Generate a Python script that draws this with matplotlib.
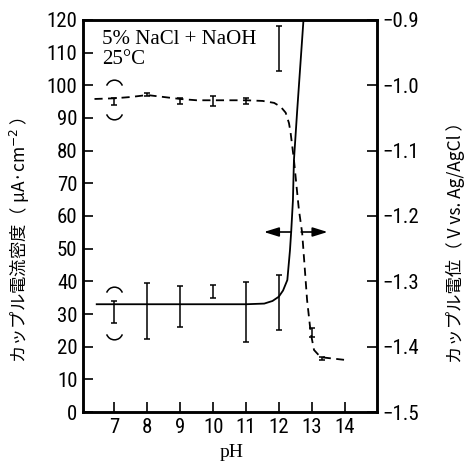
import matplotlib
matplotlib.use("Agg")
import matplotlib.pyplot as plt
import matplotlib.path as mpath
import matplotlib.font_manager as fm
from matplotlib.ticker import FuncFormatter

# ---- data ----
# coupled current density (left axis, uA/cm2), solid line
cur_ph = [6.44, 7.0, 8.0, 9.0, 10.0, 11.0, 11.55, 11.8, 11.99, 12.12, 12.25, 12.33, 12.37, 12.42, 12.45, 12.55, 12.74]
cur_val = [33.0, 33.0, 33.0, 33.0, 33.0, 33.0, 33.2, 34.0, 35.3, 37.2, 40.4, 49.5, 55.7, 64.8, 77.0, 92.4, 120.0]
cur_err_ph = [7, 8, 9, 10, 11, 12, 12]
cur_err_lo = [27.2, 22.3, 26.0, 34.8, 21.5, 25.1, 104.3]
cur_err_hi = [34.0, 39.6, 38.7, 39.0, 39.8, 42.0, 118.0]
cur_paren_ph = [7]
cur_paren_lo = [24.8]
cur_paren_hi = [35.8]

# coupled potential (right axis, V vs Ag/AgCl), dashed line
pot_ph = [6.4, 7.0, 7.5, 8.0, 8.5, 9.0, 9.5, 10.0, 11.0, 11.5, 11.85, 12.05, 12.2, 12.3, 12.35, 12.45,
          12.55, 12.6, 12.7, 12.85, 12.96, 13.06, 13.26, 13.97]
pot_val = [-1.021, -1.020, -1.018, -1.015, -1.018, -1.021, -1.023, -1.023, -1.023, -1.024, -1.027, -1.033,
           -1.042, -1.058, -1.073, -1.114, -1.165, -1.19, -1.226, -1.329, -1.379, -1.405, -1.416, -1.42]
pot_err_ph = [7, 8, 9, 10, 11, 13, 13.29]
pot_err_lo = [-1.030, -1.017, -1.028, -1.032, -1.029, -1.385, -1.421]
pot_err_hi = [-1.020, -1.012, -1.020, -1.017, -1.020, -1.372, -1.415]
pot_paren_ph = [7]
pot_paren_lo = [-1.040]
pot_paren_hi = [-1.004]

arrow_y = 55.1
arrow_left = (12.37, 11.54)
arrow_right = (12.67, 13.47)

x_ticks = [7, 8, 9, 10, 11, 12, 13, 14]
left_ticks = list(range(0, 121, 10))
right_ticks = [-1.5, -1.4, -1.3, -1.2, -1.1, -1.0, -0.9]

# ---- fonts ----
names = {f.name for f in fm.fontManager.ttflist}
tick_family = 'Liberation Sans'
tick_stretch = 'normal'
for cand in ['Liberation Sans Narrow', 'DejaVu Sans Condensed', 'Roboto Condensed', 'Open Sans Condensed']:
    if cand in names:
        tick_family = cand
        break
else:
    if any(f.name == 'DejaVu Sans' and str(f.stretch) in ('condensed', 'semi-condensed', '75', '87.5')
           for f in fm.fontManager.ttflist):
        tick_family = 'DejaVu Sans'
        tick_stretch = 'condensed'
serif_font = ['Liberation Serif', 'DejaVu Serif']
jp_font = ['Noto Sans CJK JP', 'DejaVu Sans']

fig = plt.figure(figsize=(4.66, 4.62), dpi=100)
ax = fig.add_axes([0.178, 0.108, 0.631, 0.849])
ax2 = ax.twinx()

ax.set_xlim(6.05, 14.97)
ax.set_ylim(0, 120)
ax2.set_ylim(-1.5, -0.9)

lw = 1.3
ax.plot(cur_ph, cur_val, color='black', lw=lw, solid_capstyle='butt')
ax.errorbar(cur_err_ph, [(l + h) / 2 for l, h in zip(cur_err_lo, cur_err_hi)],
            yerr=[[(h - l) / 2 for l, h in zip(cur_err_lo, cur_err_hi)]] * 2,
            fmt='none', ecolor='black', elinewidth=1.1, capsize=2.5, capthick=1.1)

ax2.plot(pot_ph, pot_val, color='black', lw=lw, linestyle=(0, (4.5, 3)))
ax2.errorbar(pot_err_ph, [(l + h) / 2 for l, h in zip(pot_err_lo, pot_err_hi)],
             yerr=[[(h - l) / 2 for l, h in zip(pot_err_lo, pot_err_hi)]] * 2,
             fmt='none', ecolor='black', elinewidth=1.1, capsize=2.5, capthick=1.1)

top_arc = mpath.Path.arc(20, 160)
bot_arc = mpath.Path.arc(200, 340)
for a, ph, lo, hi in ((ax, cur_paren_ph, cur_paren_lo, cur_paren_hi), (ax2, pot_paren_ph, pot_paren_lo, pot_paren_hi)):
    a.plot(ph, hi, linestyle='none', marker=top_arc, ms=12, mfc='none', mec='black', mew=1.1)
    a.plot(ph, lo, linestyle='none', marker=bot_arc, ms=12, mfc='none', mec='black', mew=1.1)

for start, end in (arrow_left, arrow_right):
    ax.annotate('', xy=(end, arrow_y), xytext=(start, arrow_y),
                arrowprops=dict(arrowstyle='-|>,head_length=0.9,head_width=0.28', color='black', lw=1.2,
                                shrinkA=0, shrinkB=0))

for a in (ax, ax2):
    for s in a.spines.values():
        s.set_linewidth(1.8)

ax.set_xticks(x_ticks)
ax.set_yticks(left_ticks)
ax2.set_yticks(right_ticks)
ax2.yaxis.set_major_formatter(FuncFormatter(lambda v, p: '\u2212' + f'{abs(v):.1f}'))
ax.tick_params(axis='both', direction='in', length=7, width=1.2, labelsize=15, pad=4)
ax2.tick_params(axis='y', direction='in', length=7, width=1.2, labelsize=15, pad=4)
for lab in ax.get_xticklabels() + ax.get_yticklabels() + ax2.get_yticklabels():
    lab.set_family([tick_family, 'Liberation Sans', 'DejaVu Sans'])
    lab.set_stretch(tick_stretch)

ax.text(0.065, 0.949, '5% NaCl + NaOH', transform=ax.transAxes, fontsize=15, family=serif_font, va='center', ha='left')
ax.text(0.065, 0.900, '25\u00b0C', transform=ax.transAxes, fontsize=15, family=serif_font, va='center', ha='left')

fig.text(232 / 466, 0.003, 'pH', fontsize=14, family=serif_font, ha='center', va='bottom')
fig.text(20 / 466, 1 - 240 / 462, 'カップル電流密度（ μA·cm$^{-2}$ ）', fontsize=12.5, family=jp_font,
         rotation=90, ha='center', va='center')
fig.text(455 / 466, 1 - 238 / 462, 'カップル電位（ V vs. Ag/AgCl ）', fontsize=12.5, family=jp_font,
         rotation=90, ha='center', va='center')

fig.savefig('out.png', dpi=100)
